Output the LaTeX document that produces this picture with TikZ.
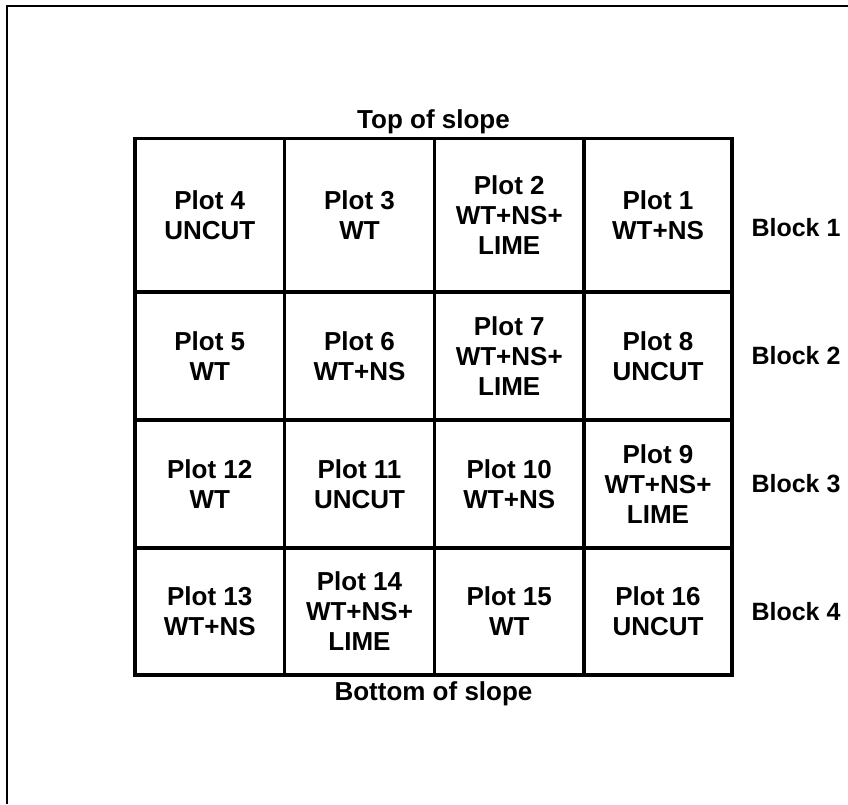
\documentclass[tikz,border=0pt]{standalone}
\usepackage{fontspec}
\setmainfont{Liberation Sans}

\tikzset{
  frameline/.style={line width=2pt},
  gridline/.style={line width=3.6pt},
  plotcell/.style={align=center, font=\fontsize{26}{30}\selectfont\bfseries},
  blocklabel/.style={anchor=west, font=\fontsize{25}{30}\selectfont\bfseries},
  slopelabel/.style={anchor=base, font=\fontsize{26}{30}\selectfont\bfseries}
}

\begin{document}
\begin{tikzpicture}[x=1pt,y=1pt]
    \useasboundingbox (0,0) rectangle (848,804);
    \draw[frameline] (6.5,0) -- (6.5,797.5) -- (848,797.5);
    \draw[gridline] (135,129) rectangle (732,665.5);
    \foreach \x in {284.5,434.5,584}{
      \draw[gridline] (\x,129) -- (\x,665.5);
    }
    \foreach \y in {256,384,512}{
      \draw[gridline] (135,\y) -- (732,\y);
    }
    \foreach \n/\x/\y/\txt in {
        4/209.75/589/{Plot 4\\UNCUT}, 3/359.5/589/{Plot 3\\WT},
        2/509.25/589/{Plot 2\\WT+NS+\\LIME}, 1/658/589/{Plot 1\\WT+NS},
        5/209.75/448/{Plot 5\\WT}, 6/359.5/448/{Plot 6\\WT+NS},
        7/509.25/448/{Plot 7\\WT+NS+\\LIME}, 8/658/448/{Plot 8\\UNCUT},
        12/209.75/320/{Plot 12\\WT}, 11/359.5/320/{Plot 11\\UNCUT},
        10/509.25/320/{Plot 10\\WT+NS}, 9/658/320/{Plot 9\\WT+NS+\\LIME},
        13/209.75/192.5/{Plot 13\\WT+NS}, 14/359.5/192.5/{Plot 14\\WT+NS+\\LIME},
        15/509.25/192.5/{Plot 15\\WT}, 16/658/192.5/{Plot 16\\UNCUT}}{
      \node[plotcell] (plot\n) at (\x,\y) {\txt};
    }
    \foreach \b/\y in {1/576,2/448,3/320,4/192}{
      \node[blocklabel] (block\b) at (748,\y) {Block \b};
    }
    \node[slopelabel] (top) at (433.5,675) {Top of slope};
    \node[slopelabel] (bottom) at (433.5,104) {Bottom of slope};
  \end{tikzpicture}
\end{document}
